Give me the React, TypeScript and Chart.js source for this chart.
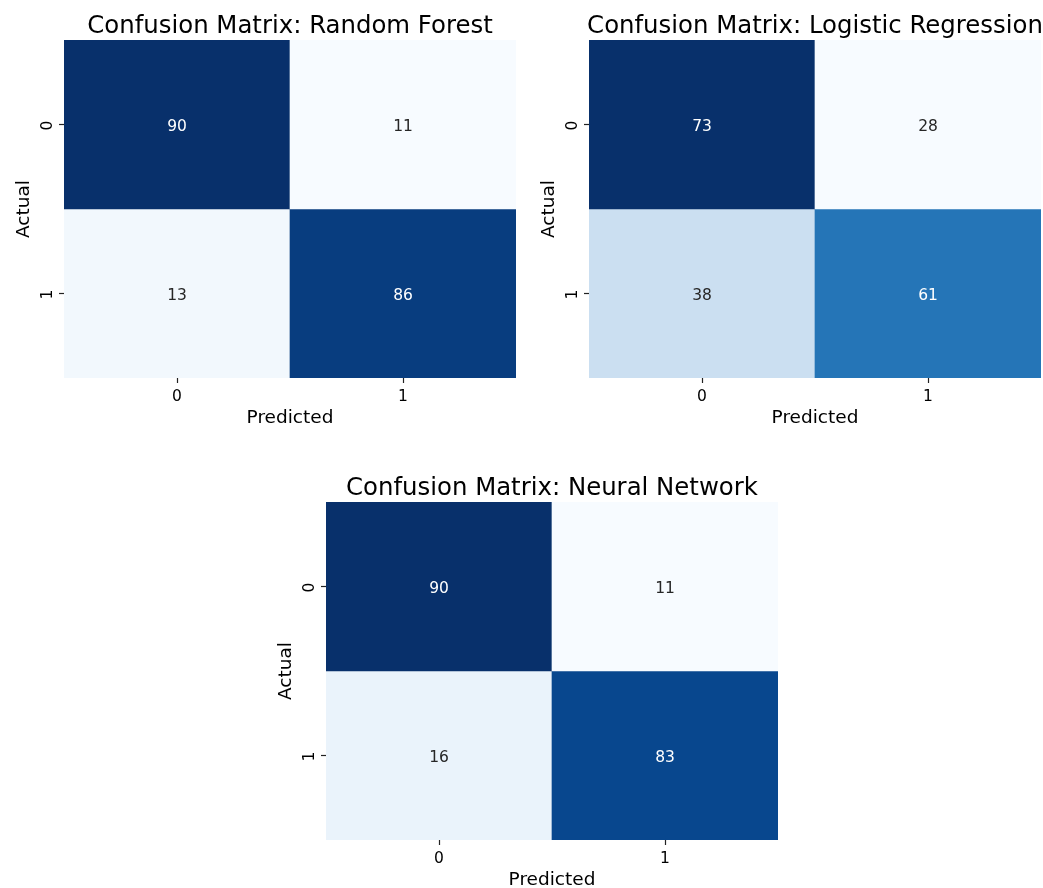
import React, { useEffect, useRef } from 'react';
import { Chart, registerables } from 'chart.js';

Chart.register(...registerables);

// ---- data ----
const classLabels = ['0', '1'];
const rfMatrix = [
  [90, 11],
  [13, 86],
];
const lrMatrix = [
  [73, 28],
  [38, 61],
];
const nnMatrix = [
  [90, 11],
  [16, 83],
];
const panelTitles = [
  'Confusion Matrix: Random Forest',
  'Confusion Matrix: Logistic Regression',
  'Confusion Matrix: Neural Network',
];
const xAxisLabel = 'Predicted';
const yAxisLabel = 'Actual';

// matplotlib "Blues" colormap anchors
const BLUES = ['#f7fbff', '#deebf7', '#c6dbef', '#9ecae1', '#6baed6', '#4292c6', '#2171b5', '#08519c', '#08306b'];

const FONT = "'DejaVu Sans', 'Liberation Sans', sans-serif";

function hexToRgb(h: string) {
  const n = parseInt(h.slice(1), 16);
  return [(n >> 16) & 255, (n >> 8) & 255, n & 255];
}

function blues(t: number): number[] {
  const x = Math.max(0, Math.min(1, t)) * (BLUES.length - 1);
  const i = Math.min(BLUES.length - 2, Math.floor(x));
  const f = x - i;
  const a = hexToRgb(BLUES[i]);
  const b = hexToRgb(BLUES[i + 1]);
  return a.map((v, k) => Math.round(v + (b[k] - v) * f));
}

function relLum(rgb: number[]) {
  const c = rgb.map((v) => {
    const s = v / 255;
    return s <= 0.03928 ? s / 12.92 : Math.pow((s + 0.055) / 1.055, 2.4);
  });
  return 0.2126 * c[0] + 0.7152 * c[1] + 0.0722 * c[2];
}

const CW = 580;
const CH = 440;

function Panel({ title, matrix, left, top }: { title: string; matrix: number[][]; left: number; top: number }) {
  const ref = useRef<HTMLCanvasElement>(null);
  useEffect(() => {
    if (!ref.current) return;
    const flat = matrix.flat();
    const vmin = Math.min(...flat);
    const vmax = Math.max(...flat);
    const rgbs = matrix.map((row) => row.map((v) => blues((v - vmin) / (vmax - vmin))));

    const datasets = matrix.map((row, r) => ({
      label: `${yAxisLabel} ${classLabels[r]}`,
      data: row.map(() => [r, r + 1]),
      backgroundColor: rgbs[r].map((c) => `rgb(${c[0]},${c[1]},${c[2]})`),
      borderWidth: 0,
      grouped: false,
      barPercentage: 1,
      categoryPercentage: 1,
    }));

    const annotPlugin = {
      id: 'annot',
      afterDatasetsDraw(chart: any) {
        const ctx = chart.ctx;
        ctx.save();
        ctx.font = `15.5px ${FONT}`;
        ctx.textAlign = 'center';
        ctx.textBaseline = 'middle';
        chart.data.datasets.forEach((_ds: any, di: number) => {
          const meta = chart.getDatasetMeta(di);
          meta.data.forEach((el: any, ci: number) => {
            const v = matrix[di][ci];
            ctx.fillStyle = relLum(rgbs[di][ci]) > 0.408 ? '#262626' : '#ffffff';
            ctx.fillText(String(v), el.x, (el.y + el.base) / 2 + 2);
          });
        });
        ctx.restore();
      },
      afterDraw(chart: any) {
        const ctx = chart.ctx;
        const ys = chart.scales.y;
        ctx.save();
        ctx.font = `15.5px ${FONT}`;
        ctx.fillStyle = '#000';
        ctx.textAlign = 'center';
        ctx.textBaseline = 'alphabetic';
        classLabels.forEach((lab, i) => {
          const py = ys.getPixelForValue(i + 0.5);
          ctx.save();
          ctx.translate(chart.chartArea.left - 12, py + 1);
          ctx.rotate(-Math.PI / 2);
          ctx.fillText(lab, 0, 0);
          ctx.restore();
        });
        ctx.restore();
      },
    };

    const chart = new Chart(ref.current, {
      type: 'bar',
      data: { labels: classLabels, datasets: datasets as any },
      options: {
        animation: false,
        responsive: false,
        devicePixelRatio: 1,
        layout: { padding: 0 },
        plugins: {
          legend: { display: false },
          tooltip: { enabled: false },
          title: {
            display: true,
            text: title,
            color: '#000',
            fullSize: true,
            font: { family: FONT, size: 24.4, weight: 'normal' as any, lineHeight: 1.0 },
            padding: { top: 14.8, bottom: 0.8 },
          },
        },
        scales: {
          x: {
            type: 'category',
            offset: true,
            grid: { display: true, drawOnChartArea: false, drawTicks: true, tickLength: 5, tickColor: '#222', tickWidth: 1.2, offset: false },
            border: { display: false },
            ticks: { color: '#000', font: { family: FONT, size: 15.5 }, padding: 4.5, maxRotation: 0, autoSkip: false },
            title: {
              display: true,
              text: xAxisLabel,
              color: '#000',
              font: { family: FONT, size: 18.5, lineHeight: 1.2 },
              padding: { top: 0, bottom: 10.6 },
            },
            afterFit(scale: any) {
              scale.height = 62;
            },
          },
          y: {
            type: 'linear',
            min: 0,
            max: 2,
            reverse: true,
            grid: { display: true, drawOnChartArea: false, drawTicks: true, tickLength: 5, tickColor: '#222', tickWidth: 1.2 },
            border: { display: false },
            ticks: { autoSkip: false, callback: () => '' },
            afterBuildTicks(scale: any) {
              scale.ticks = classLabels.map((_l, i) => ({ value: i + 0.5 }));
            },
            title: {
              display: true,
              text: yAxisLabel,
              color: '#000',
              font: { family: FONT, size: 18.5, lineHeight: 1.2 },
              padding: { top: 13.4, bottom: 0 },
            },
            afterFit(scale: any) {
              scale.width = 64;
            },
          },
          yRight: {
            type: 'linear',
            position: 'right',
            display: true,
            grid: { display: false, drawTicks: false },
            border: { display: false },
            ticks: { display: false },
            afterFit(scale: any) {
              scale.width = 64;
            },
          },
        },
      } as any,
      plugins: [annotPlugin],
    });
    return () => chart.destroy();
  }, [title, matrix]);

  return (
    <canvas
      ref={ref}
      width={CW}
      height={CH}
      style={{ position: 'absolute', left, top, width: CW, height: CH }}
    />
  );
}

export default function App() {
  return (
    <div
      style={{
        position: 'absolute',
        left: 0,
        top: 0,
        width: 1043,
        height: 888,
        overflow: 'hidden',
        background: '#fff',
      }}
    >
      <Panel title={panelTitles[0]} matrix={rfMatrix} left={0} top={0} />
      <Panel title={panelTitles[1]} matrix={lrMatrix} left={525} top={0} />
      <Panel title={panelTitles[2]} matrix={nnMatrix} left={262} top={462} />
    </div>
  );
}
